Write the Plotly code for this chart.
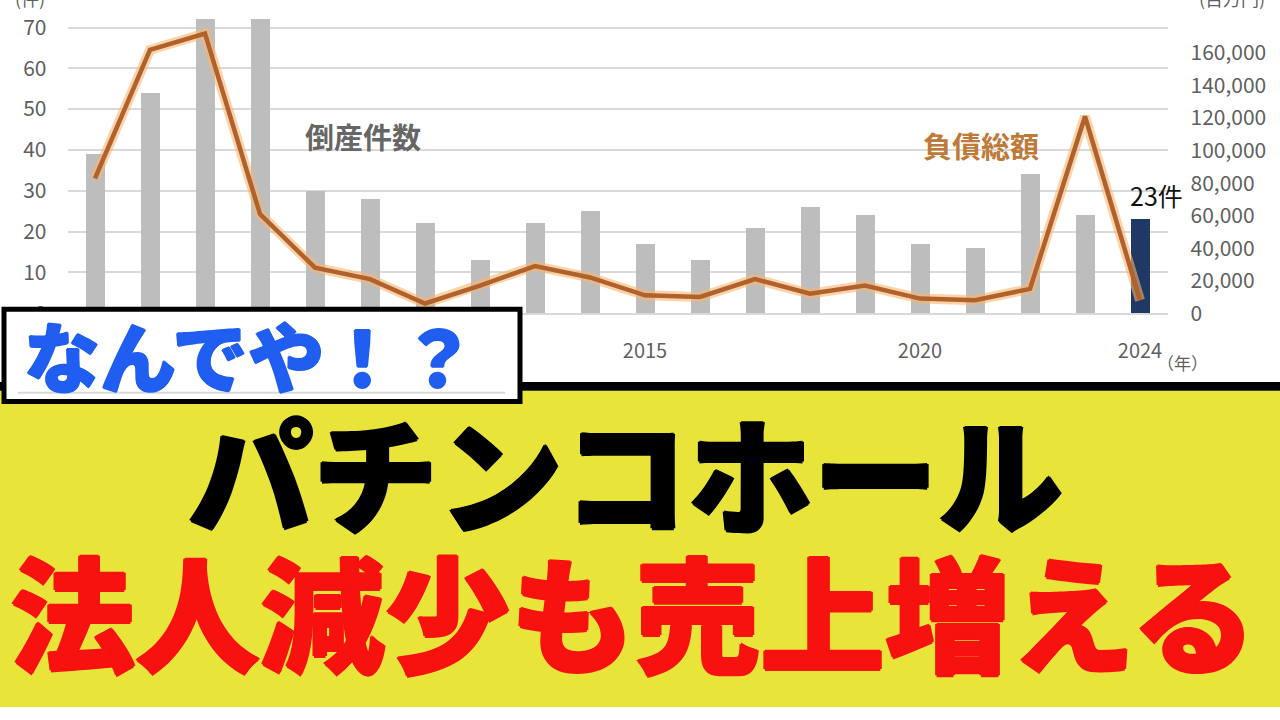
import plotly.graph_objects as go

years = list(range(2005, 2025))
bankruptcies = [39, 54, 72, 72, 30, 28, 22, 13, 22, 25, 17, 13, 21, 26, 24, 17, 16, 34, 24, 23]
debt_total = [83000, 162000, 172000, 61000, 28000, 21000, 6000, 17000, 29000, 22000,
              11000, 10000, 21000, 12000, 17000, 9000, 8000, 15000, 121000, 8000]
x_tick_years = [2015, 2020, 2024]
left_ticks = [0, 10, 20, 30, 40, 50, 60, 70]
right_ticks = [0, 20000, 40000, 60000, 80000, 100000, 120000, 140000, 160000]

W, H = 1280, 720
FONT = "Noto Sans CJK JP"
GRAY_TXT = "#5f5f5f"

bar_colors = ["#BDBDBD"] * (len(years) - 1) + ["#1F3864"]

fig = go.Figure()
fig.add_trace(go.Bar(x=years, y=bankruptcies, width=0.36, marker=dict(color=bar_colors, line=dict(width=0)),
                     yaxis="y", showlegend=False))
fig.add_trace(go.Scatter(x=years, y=debt_total, mode="lines", yaxis="y2",
                         line=dict(color="rgba(246,182,112,0.6)", width=10), showlegend=False))
fig.add_trace(go.Scatter(x=years, y=debt_total, mode="lines", yaxis="y2",
                         line=dict(color="#B1612B", width=4.5), showlegend=False))

def px_x(v):
    return v / W

def px_y(v):
    return 1 - v / H

plot_bottom = 319
ydom = [px_y(plot_bottom), 1]
left_max = plot_bottom / 4.157
right_max = plot_bottom / 1.656 * 1000

fig.update_layout(
    width=W, height=H,
    margin=dict(l=0, r=0, t=0, b=0),
    paper_bgcolor="white", plot_bgcolor="white",
    bargap=0,
    font=dict(family=FONT, color=GRAY_TXT, size=20),
    xaxis=dict(domain=[px_x(67.5), px_x(1167.5)], range=[2004.5, 2024.5],
               tickvals=x_tick_years, ticktext=[str(v) for v in x_tick_years],
               showgrid=False, zeroline=False, showline=True, linecolor="#D9D9D9", linewidth=1.5,
               ticks="", ticklabelstandoff=19, tickfont=dict(size=20, color=GRAY_TXT)),
    yaxis=dict(domain=ydom, range=[0, left_max], tickvals=left_ticks,
               showgrid=True, gridcolor="#D9D9D9", gridwidth=1.5, zeroline=False,
               ticks="", ticklabelstandoff=20, tickfont=dict(size=21, color=GRAY_TXT)),
    yaxis2=dict(domain=ydom, range=[0, right_max], overlaying="y", side="right",
                tickvals=right_ticks, tickformat=",", showgrid=False, zeroline=False,
                ticks="", ticklabelstandoff=22, tickfont=dict(size=21, color=GRAY_TXT)),
)

shapes = []
shapes.append(dict(type="rect", xref="paper", yref="paper", x0=0, x1=1, y0=0, y1=px_y(398),
                   fillcolor="#E9E43A", line=dict(width=0), layer="above"))
shapes.append(dict(type="rect", xref="paper", yref="paper", x0=0, x1=1, y0=px_y(398), y1=px_y(389),
                   fillcolor="black", line=dict(width=0), layer="above"))
shapes.append(dict(type="rect", xref="paper", yref="paper", x0=px_x(4), x1=px_x(520), y0=px_y(409), y1=px_y(315),
                   fillcolor="white", line=dict(color="black", width=5), layer="above"))
shapes.append(dict(type="line", xref="paper", yref="paper", x0=px_x(18), x1=px_x(505), y0=px_y(400), y1=px_y(400),
                   line=dict(color="#D8D8D8", width=2), layer="above"))
fig.update_layout(shapes=shapes)

def note(x, y, text, size, color, xref="paper", yref="paper", weight="normal", shadow="none", **kw):
    d = dict(x=x, y=y, xref=xref, yref=yref, text=text, showarrow=False,
             xanchor=kw.pop("xanchor", "center"), yanchor=kw.pop("yanchor", "middle"),
             font=dict(family=FONT, size=size, color=color, weight=weight, shadow=shadow))
    d.update(kw)
    return d

def outline(c, w):
    return f"{w}px 0 0 {c}, -{w}px 0 0 {c}, 0 {w}px 0 {c}, 0 -{w}px 0 {c}"

ann = [
    note(2009.87, 43.5, "倒産件数", 29, "#666666", xref="x", yref="y", weight=700),
    note(2021.1, 41.1, "負債総額", 29, "#BE7A38", xref="x", yref="y", weight=700),
    note(2024, bankruptcies[-1], "23件", 25, "#111111", xref="x", yref="y",
         yanchor="bottom", xshift=16, yshift=4),
    note(px_x(30), px_y(-2), "(件)", 18, GRAY_TXT),
    note(px_x(1232), px_y(-2), "(百万円)", 18, GRAY_TXT),
    note(px_x(1182), px_y(369), "（年）", 17, GRAY_TXT),
    note(px_x(250), px_y(361), "なんでや！？", 76, "#1F5EF0", weight=900, shadow=outline("#1F5EF0", 1)),
    note(px_x(625), px_y(478), "パチンコホール", 125, "#000000", weight=900, shadow=outline("#000000", 1.5)),
    note(px_x(633), px_y(620), "法人減少も売上増える", 125, "#F7120F", weight=900, shadow=outline("#F7120F", 1.5)),
]
fig.update_layout(annotations=ann)

fig.write_html(
    "out.html",
    config={"displayModeBar": False},
    post_script=(
        "document.documentElement.style.overflow='hidden';"
        "document.documentElement.style.height='720px';"
        "document.body.style.margin='0';"
        "document.body.style.padding='0';"
        "document.body.style.overflow='hidden';"
        "document.body.style.height='720px';"
    ),
)
